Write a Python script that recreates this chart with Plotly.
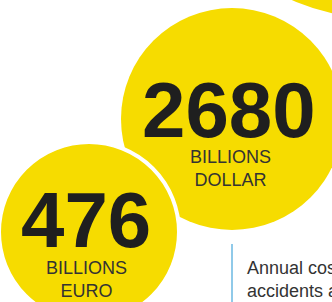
import plotly.graph_objects as go

# ---- data ----
values = ["476", "2680"]
unit_lines = ["BILLIONS", "BILLIONS"]
currencies = ["EURO", "DOLLAR"]
caption = "Annual cost of road<br>accidents and injuries"

# ---- layout (pixel-like data space) ----
W, H = 332, 302
circle_centers = [(89, 232), (232, 119)]
circle_radii = [90, 111]
third_center, third_radius = (377, -193), 211

YELLOW = "#F6DC00"
DARK = "#1f1f1f"
GREY = "#333333"

fig = go.Figure()
fig.add_trace(go.Scatter(x=[0, W], y=[0, H], mode="markers",
                         marker=dict(opacity=0), hoverinfo="skip", showlegend=False))

shapes = []
# third (partially visible) circle
cx, cy = third_center
shapes.append(dict(type="circle", xref="x", yref="y",
                   x0=cx - third_radius, x1=cx + third_radius,
                   y0=cy - third_radius, y1=cy + third_radius,
                   fillcolor=YELLOW, line=dict(width=0), layer="above"))
# big circle then small circle with white outline
for i in [1, 0]:
    cx, cy = circle_centers[i]
    r = circle_radii[i]
    shapes.append(dict(type="circle", xref="x", yref="y",
                       x0=cx - r, x1=cx + r, y0=cy - r, y1=cy + r,
                       fillcolor=YELLOW,
                       line=dict(color="white", width=4 if i == 0 else 0),
                       layer="above"))
# blue rule
shapes.append(dict(type="line", xref="x", yref="y", x0=232, x1=232, y0=244, y1=310,
                   line=dict(color="#6BB8E2", width=1.5), layer="above"))

annotations = []
num_pos = [(86, 220), (229, 110)]
unit_pos = [(86.5, 279.5), (230, 168.5)]
for i in range(2):
    annotations.append(dict(x=num_pos[i][0], y=num_pos[i][1], xref="x", yref="y",
                            text="<b>%s</b>" % values[i], showarrow=False,
                            xanchor="center", yanchor="middle",
                            font=dict(family="Liberation Sans, Arial", size=78, color=DARK)))
    annotations.append(dict(x=unit_pos[i][0], y=unit_pos[i][1], xref="x", yref="y",
                            text="%s<br>%s" % (unit_lines[i], currencies[i]), showarrow=False,
                            xanchor="center", yanchor="middle",
                            font=dict(family="Liberation Sans, Arial", size=18, color=GREY)))
annotations.append(dict(x=245, y=279.5, xref="x", yref="y", text=caption,
                        showarrow=False, xanchor="left", yanchor="middle", align="left",
                        font=dict(family="Liberation Sans, Arial", size=18, color=GREY)))

fig.update_layout(
    width=W, height=H, margin=dict(l=0, r=0, t=0, b=0),
    paper_bgcolor="white", plot_bgcolor="white",
    xaxis=dict(range=[0, W], visible=False, fixedrange=True),
    yaxis=dict(range=[H, 0], visible=False, fixedrange=True),
    shapes=shapes, annotations=annotations, showlegend=False,
)

fig.write_html("out.html", config={"displayModeBar": False},
               post_script="document.body.style.margin='0';document.body.style.overflow='hidden';")
